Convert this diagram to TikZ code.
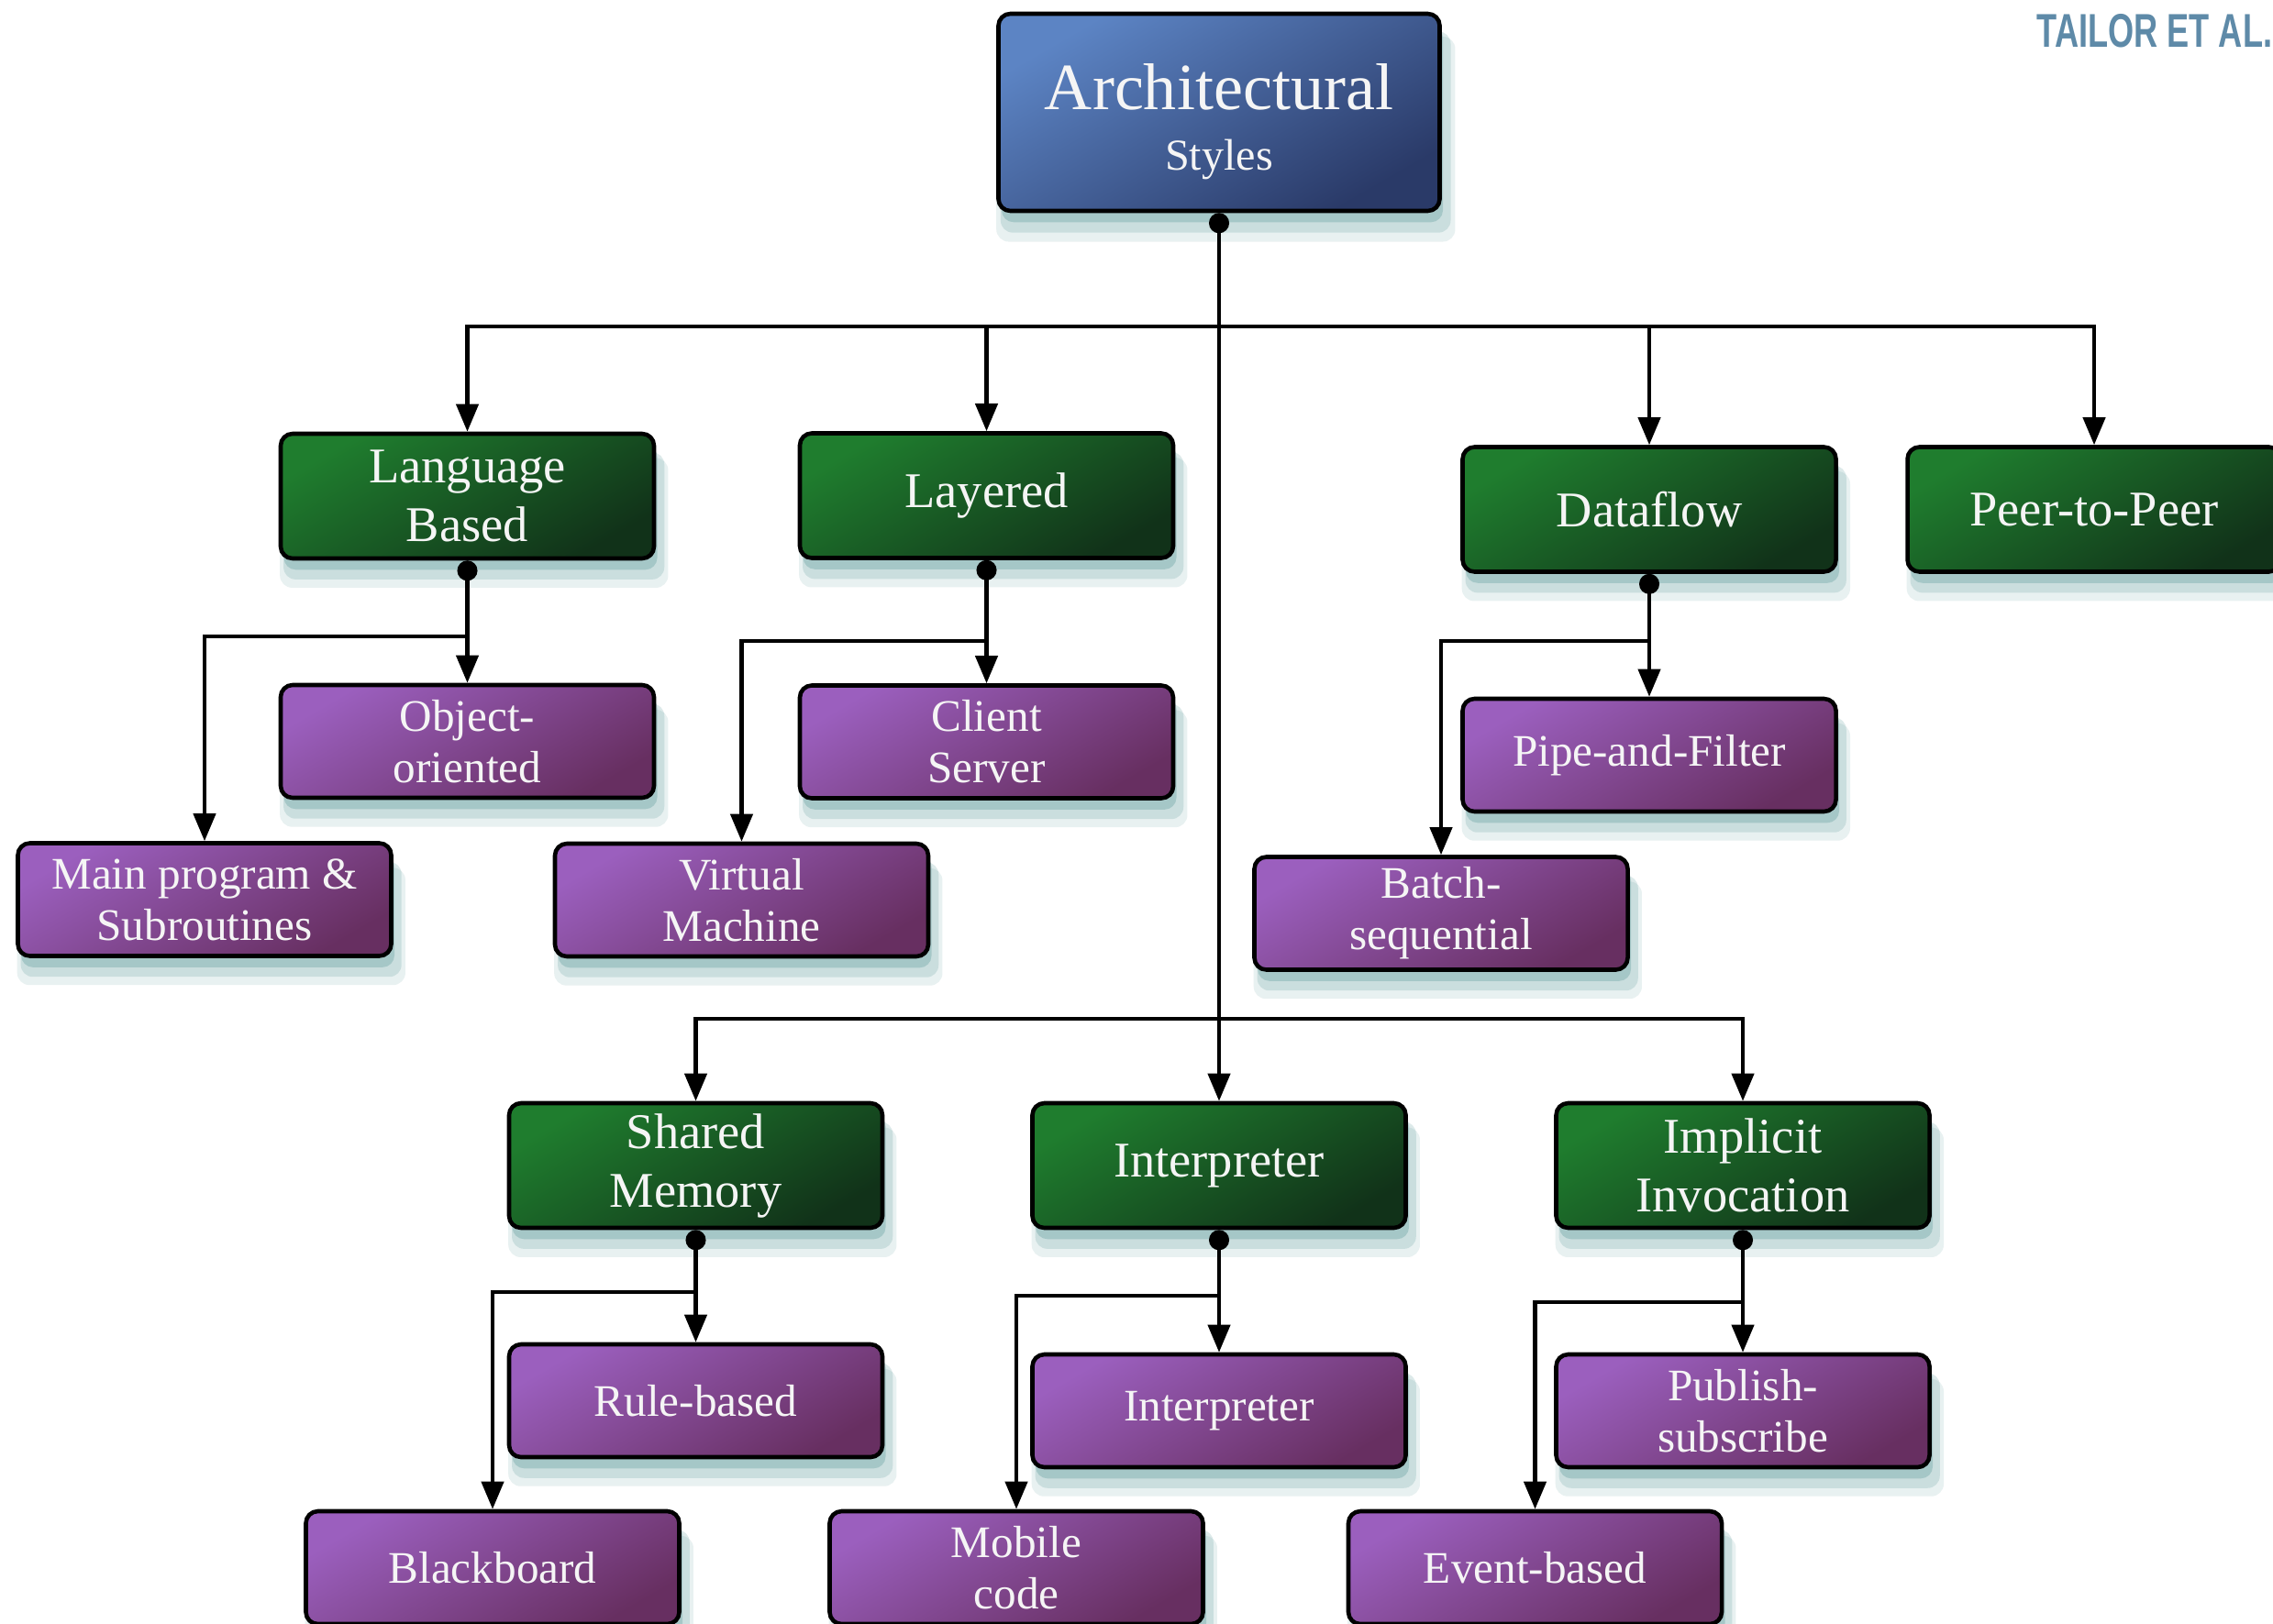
\documentclass[tikz,border=0pt]{standalone}
\usepackage{fontspec}
\usepackage{graphicx}
\setmainfont{Liberation Serif}
\newfontfamily\tagfont{Liberation Sans}
\usetikzlibrary{arrows.meta,shadows}
\definecolor{roottop}{RGB}{92,132,196}
\definecolor{rootbot}{RGB}{42,58,104}
\definecolor{famtop}{RGB}{31,125,46}
\definecolor{fambot}{RGB}{17,50,25}
\definecolor{vartop}{RGB}{155,95,190}
\definecolor{varbot}{RGB}{103,47,97}
\definecolor{glow}{RGB}{70,140,140}
\definecolor{tagblue}{RGB}{94,138,168}
\tikzset{%
glowshadow/.style={general shadow={fill=glow,opacity=0.12,shadow xshift=2pt,shadow yshift=-8pt,shadow scale=1.04},general shadow={fill=glow,opacity=0.18,shadow xshift=2pt,shadow yshift=-6pt,shadow scale=1.02},general shadow={fill=glow,opacity=0.28,shadow xshift=1pt,shadow yshift=-3.5pt}},
box/.style={draw=black,line width=1.3pt,rounded corners=0.13cm,text=white!96!black,align=center,minimum width=4.07cm,inner sep=2pt,glowshadow},
rootbox/.style={box,top color=roottop,bottom color=rootbot,shading angle=30,minimum width=4.81cm,minimum height=2.15cm,text height=1.37cm,font=\fontsize{13.7}{19}\selectfont},
family/.style={box,top color=famtop,bottom color=fambot,shading angle=30,minimum height=1.36cm,font=\fontsize{15.5}{18.2}\selectfont},
variant/.style={box,top color=vartop,bottom color=varbot,shading angle=30,minimum height=1.23cm,font=\fontsize{14}{16}\selectfont},
link/.style={line width=1.2pt,-{Triangle[length=0.3cm,width=0.24cm]}},
dotlink/.style={line width=1.2pt,{Circle[length=0.22cm]}-{Triangle[length=0.3cm,width=0.24cm]}}
}

\begin{document}
\begin{tikzpicture}

    \useasboundingbox (0,0) rectangle (24.78,-17.70);
    \fill[white] (0,0) rectangle (24.78,-17.70);
    \clip (0,0) rectangle (24.78,-17.70);

    \node[anchor=base west,inner sep=0,text=tagblue,font=\tagfont\bfseries\fontsize{14.7}{16}\selectfont] (tag) at (22.2,-0.52) {\scalebox{0.7}[1]{TAILOR ET AL.}};

    \node[rootbox] (arch) at (13.29,-1.225) {{\fontsize{20.5}{22}\selectfont Architectural}\\Styles};

    \node[family] (lang) at (5.095,-5.41) {Language\\Based};
    \node[family] (layered) at (10.755,-5.405) {Layered};
    \node[family] (dataflow) at (17.98,-5.555) {Dataflow};
    \node[family] (p2p) at (22.83,-5.555) {Peer-to-Peer};

    \node[variant] (oo) at (5.095,-8.085) {Object-\\oriented};
    \node[variant] (cs) at (10.755,-8.09) {Client\\Server};
    \node[variant] (mainprog) at (2.23,-9.81) {Main program \&\\Subroutines};
    \node[variant] (vm) at (8.085,-9.815) {Virtual\\Machine};
    \node[variant] (pipe) at (17.98,-8.235) {Pipe-and-Filter};
    \node[variant] (batch) at (15.71,-9.96) {Batch-\\sequential};

    \node[family] (shared) at (7.585,-12.71) {Shared\\Memory};
    \node[family] (interp) at (13.29,-12.71) {Interpreter};
    \node[family] (implicit) at (19.0,-12.71) {Implicit\\Invocation};

    \node[variant] (rule) at (7.585,-15.275) {Rule-based};
    \node[variant] (interpv) at (13.29,-15.385) {Interpreter};
    \node[variant] (pubsub) at (19.0,-15.385) {Publish-\\subscribe};
    \node[variant] (blackboard) at (5.37,-17.095) {Blackboard};
    \node[variant] (mobile) at (11.08,-17.095) {Mobile\\code};
    \node[variant] (event) at (16.735,-17.095) {Event-based};

    \draw[dotlink] (arch.south) -- (interp.north);
    \draw[link] ([yshift=-1.24cm]arch.south) -| (lang.north);
    \draw[link] ([yshift=-1.24cm]arch.south) -| (layered.north);
    \draw[link] ([yshift=-1.24cm]arch.south) -| (dataflow.north);
    \draw[link] ([yshift=-1.24cm]arch.south) -| (p2p.north);
    \draw[link] ([yshift=-8.79cm]arch.south) -| (shared.north);
    \draw[link] ([yshift=-8.79cm]arch.south) -| (implicit.north);

    \draw[dotlink] (lang.south) -- (oo.north);
    \draw[link] ([yshift=-0.83cm]lang.south) -| (mainprog.north);
    \draw[dotlink] (layered.south) -- (cs.north);
    \draw[link] ([yshift=-0.88cm]layered.south) -| (vm.north);
    \draw[dotlink] (dataflow.south) -- (pipe.north);
    \draw[link] ([yshift=-0.73cm]dataflow.south) -| (batch.north);

    \draw[dotlink] (shared.south) -- (rule.north);
    \draw[link] ([yshift=-0.68cm]shared.south) -| (blackboard.north);
    \draw[dotlink] (interp.south) -- (interpv.north);
    \draw[link] ([yshift=-0.72cm]interp.south) -| (mobile.north);
    \draw[dotlink] (implicit.south) -- (pubsub.north);
    \draw[link] ([yshift=-0.79cm]implicit.south) -| (event.north);

\end{tikzpicture}
\end{document}
